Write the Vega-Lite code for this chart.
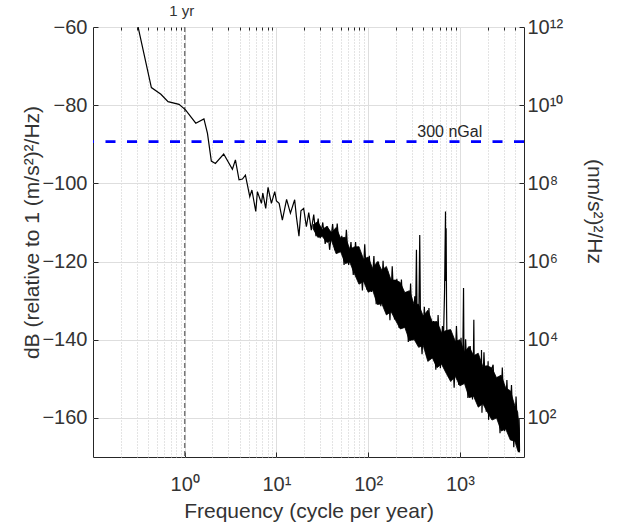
{
  "$schema": "https://vega.github.io/schema/vega-lite/v6.json",
  "width": 431,
  "height": 430,
  "autosize": "none",
  "padding": {"left": 93, "top": 27, "right": 98, "bottom": 72},
  "background": "white",
  "datasets": {
    "psd": [
      {"f":0.25,"db":-50},{"f":0.433,"db":-75.5},{"f":0.55,"db":-77.2},{"f":0.658,"db":-79.1},{"f":0.867,"db":-79.8},
      {"f":1.02,"db":-81.2},{"f":1.32,"db":-84.6},{"f":1.62,"db":-83.5},{"f":1.77,"db":-87.2},{"f":1.95,"db":-94.3},
      {"f":2.16,"db":-94.9},{"f":2.66,"db":-92.5},{"f":3.31,"db":-96.4},{"f":3.57,"db":-94.0},{"f":3.91,"db":-99.1},
      {"f":4.26,"db":-98.9},{"f":4.59,"db":-97.9},{"f":5.12,"db":-103.4},{"f":5.4,"db":-101.7},{"f":5.95,"db":-107.2},
      {"f":6.2,"db":-102.1},{"f":6.86,"db":-105.1},{"f":7.1,"db":-102.5},{"f":7.64,"db":-106.4},{"f":8.1,"db":-101.0},
      {"f":8.81,"db":-105.1},{"f":9.58,"db":-102.1},{"f":10.0,"db":-104.5},{"f":10.7,"db":-105.1},{"f":11.6,"db":-109.4},
      {"f":12.9,"db":-104.1},{"f":14.2,"db":-107.6},{"f":15.8,"db":-104.2},{"f":16.5,"db":-108.5},{"f":17.6,"db":-113.5},
      {"f":18.5,"db":-107},{"f":19.8,"db":-106.4},{"f":21.2,"db":-111.1},{"f":22.5,"db":-107.5},{"f":24,"db":-112},
      {"f":25.5,"db":-108},{"f":27,"db":-113.5},{"f":28.5,"db":-109},{"f":30,"db":-114},{"f":32,"db":-110},
      {"f":34,"db":-115.5},{"f":36,"db":-111},{"f":38,"db":-117},
      {"f":40.97,"db":-110.4},{"f":43.4,"db":-117.1},{"f":45.97,"db":-110.3},{"f":48.7,"db":-117.4},
      {"f":51.58,"db":-113.4},{"f":54.64,"db":-120.9},{"f":57.87,"db":-111.9},{"f":61.3,"db":-120.9},
      {"f":64.94,"db":-115.0},{"f":68.79,"db":-123.4},{"f":72.86,"db":-115.0},{"f":77.18,"db":-122.9},
      {"f":81.75,"db":-118.0},{"f":86.59,"db":-127.4},{"f":91.73,"db":-115.6},{"f":97.17,"db":-127.2},
      {"f":102.9,"db":-118.5},{"f":109.0,"db":-127.8},{"f":115.5,"db":-118.6},{"f":122.3,"db":-130.9},
      {"f":129.6,"db":-120.0},{"f":137.3,"db":-131.4},{"f":145.4,"db":-119.8},{"f":154.0,"db":-131.7},
      {"f":163.1,"db":-122.5},{"f":172.8,"db":-135.0},{"f":183.0,"db":-121.2},{"f":193.8,"db":-134.8},
      {"f":205.3,"db":-124.4},{"f":217.5,"db":-137.0},{"f":230.4,"db":-124.6},{"f":244.1,"db":-136.3},
      {"f":258.5,"db":-127.8},{"f":273.9,"db":-140.6},{"f":290.0,"db":-125.6},{"f":307.2,"db":-140.2},
      {"f":322,"db":-128.9},{"f":330,"db":-131},{"f":336,"db":-117},{"f":341,"db":-133},{"f":346,"db":-140.7},
      {"f":358,"db":-131},{"f":365,"db":-113.2},{"f":372,"db":-136},{"f":386.8,"db":-143.7},
      {"f":409.7,"db":-131.6},{"f":434.0,"db":-144.2},{"f":459.7,"db":-131.9},{"f":487.0,"db":-144.5},
      {"f":515.8,"db":-135.2},{"f":546.4,"db":-147.7},{"f":578.7,"db":-133.7},{"f":613.0,"db":-147.3},
      {"f":645,"db":-136.5},{"f":662,"db":-140},{"f":680,"db":-128},{"f":697,"db":-107.2},{"f":701,"db":-125},
      {"f":708,"db":-111.5},{"f":716,"db":-132},{"f":728,"db":-147},{"f":745,"db":-138},{"f":771.8,"db":-148.3},
      {"f":817.5,"db":-139.2},{"f":865.9,"db":-152.3},{"f":917.3,"db":-136.5},{"f":971.7,"db":-151.6},
      {"f":1029,"db":-139.5},{"f":1070,"db":-150},{"f":1096,"db":-126.8},{"f":1112,"db":-151},
      {"f":1155,"db":-139.9},{"f":1223,"db":-154.9},{"f":1296,"db":-141.6},{"f":1373,"db":-155.3},
      {"f":1400,"db":-148},{"f":1419,"db":-134.9},{"f":1440,"db":-153},{"f":1540,"db":-155.5},
      {"f":1631,"db":-144.6},{"f":1705,"db":-155},{"f":1720,"db":-142.6},{"f":1740,"db":-158.7},
      {"f":1830,"db":-143.2},{"f":1938,"db":-158.4},{"f":2010,"db":-152},{"f":2030,"db":-145.5},{"f":2055,"db":-160.5},
      {"f":2180,"db":-148},{"f":2304,"db":-146.4},{"f":2441,"db":-159.7},{"f":2585,"db":-149.5},{"f":2739,"db":-163.9},
      {"f":2900,"db":-147.1},{"f":3072,"db":-163.4},{"f":3254,"db":-150.3},{"f":3447,"db":-163.8},
      {"f":3652,"db":-151.6},{"f":3868,"db":-167.5},{"f":4097,"db":-154.5},{"f":4340,"db":-168.8},
      {"f":4420,"db":-160},{"f":4470,"db":-168.5}
    ],
    "band": [
      {"f":25.1,"hi":-110.6,"lo":-111.6},{"f":28.2,"hi":-109.8,"lo":-113.8},
      {"f":31.6,"hi":-111.8,"lo":-113.6},{"f":35.5,"hi":-111.0,"lo":-115.1},{"f":39.8,"hi":-112.6,"lo":-114.6},
      {"f":44.7,"hi":-111.3,"lo":-118.0},{"f":50.1,"hi":-114.0,"lo":-117.5},{"f":56.2,"hi":-113.8,"lo":-120.5},
      {"f":63.1,"hi":-116.8,"lo":-120.2},{"f":70.8,"hi":-116.25,"lo":-123.15},{"f":79.4,"hi":-116.2,"lo":-125.8},
      {"f":89.1,"hi":-119.4,"lo":-125.1},{"f":100,"hi":-118.85,"lo":-127.85},{"f":112,"hi":-121.75,"lo":-127.35},
      {"f":126,"hi":-120.0,"lo":-131.0},{"f":141,"hi":-122.2,"lo":-130.8},{"f":158,"hi":-121.25,"lo":-133.65},
      {"f":178,"hi":-124.75,"lo":-132.85},{"f":200,"hi":-124.75,"lo":-135.15},{"f":224,"hi":-125.35,"lo":-137.25},
      {"f":251,"hi":-127.95,"lo":-136.85},{"f":282,"hi":-127.45,"lo":-140.25},{"f":316,"hi":-130.85,"lo":-139.85},
      {"f":355,"hi":-130.95,"lo":-141.95},{"f":398,"hi":-133.95,"lo":-141.45},{"f":447,"hi":-132.45,"lo":-145.55},
      {"f":501,"hi":-135.45,"lo":-144.65},{"f":562,"hi":-135.35,"lo":-147.15},{"f":631,"hi":-138.15,"lo":-146.25},
      {"f":708,"hi":-137.65,"lo":-148.55},{"f":794,"hi":-137.4,"lo":-150.7},{"f":891,"hi":-140.4,"lo":-149.4},
      {"f":1000,"hi":-140.0,"lo":-151.8},{"f":1122,"hi":-143.2,"lo":-151.2},{"f":1259,"hi":-141.7,"lo":-154.8},
      {"f":1413,"hi":-144.1,"lo":-154.5},{"f":1585,"hi":-143.45,"lo":-157.25},{"f":1778,"hi":-146.85,"lo":-156.35},
      {"f":1995,"hi":-146.65,"lo":-158.55},{"f":2239,"hi":-147.25,"lo":-160.55},{"f":2512,"hi":-149.75,"lo":-160.05},
      {"f":2818,"hi":-149.05,"lo":-163.35},{"f":3162,"hi":-152.35,"lo":-162.85},{"f":3548,"hi":-153.05,"lo":-165.65},
      {"f":3981,"hi":-156.95,"lo":-165.95},{"f":4266,"hi":-158.5,"lo":-168.3},{"f":4467,"hi":-163.5,"lo":-168.8}
    ],
    "yr": [{"f":1,"db":-60,"label":"1 yr"}],
    "gal": [{"f":776,"db":-89.3,"label":"300 nGal"}]
  },
  "layer": [
    {
      "data": {"name": "yr"},
      "mark": {"type": "rule", "color": "#777777", "strokeDash": [5, 3], "strokeWidth": 1.5},
      "encoding": {
        "x": {
          "field": "f", "type": "quantitative",
          "scale": {"type": "log", "domain": [0.1, 5000], "nice": false},
          "axis": {
            "orient": "top",
            "title": null,
            "values": [0.2,0.3,0.4,0.5,0.6,0.7,0.8,0.9,2,3,4,5,6,7,8,9,20,30,40,50,60,70,80,90,200,300,400,500,600,700,800,900,2000,3000,4000],
            "labels": false,
            "grid": true,
            "gridColor": "#c8c8c8",
            "gridDash": [1, 2],
            "gridWidth": 1,
            "tickSize": -3
          }
        }
      }
    },
    {
      "data": {"name": "gal"},
      "mark": {"type": "rule", "color": "#0000ff", "strokeDash": [10, 11.5], "strokeWidth": 2.8},
      "encoding": {
        "y": {
          "field": "db", "type": "quantitative",
          "scale": {"domain": [-170, -60], "nice": false, "zero": false},
          "axis": {
            "orient": "right",
            "title": "(nm/s²)²/Hz",
            "values": [-160, -140, -120, -100, -80, -60],
            "labelExpr": "datum.value==-60?'10¹²':datum.value==-80?'10¹⁰':datum.value==-100?'10⁸':datum.value==-120?'10⁶':datum.value==-140?'10⁴':'10²'",
            "grid": false,
            "tickSize": -5,
            "labelPadding": 8,
            "labelFlush": false,
            "titleAngle": 90,
            "titleBaseline": "alphabetic",
            "titleX": 63,
            "titleY": 184
          }
        }
      }
    },
    {
      "data": {"name": "band"},
      "mark": {"type": "area", "color": "black", "stroke": "black", "strokeWidth": 0.8, "clip": true},
      "encoding": {
        "x": {
          "field": "f", "type": "quantitative",
          "scale": {"type": "log", "domain": [0.1, 5000], "nice": false},
          "axis": {
            "orient": "bottom",
            "title": "Frequency (cycle per year)",
            "values": [1, 10, 100, 1000],
            "labelExpr": "datum.value==1?'10⁰':datum.value==10?'10¹':datum.value==100?'10²':'10³'",
            "labelFlush": false,
            "labelPadding": 22,
            "grid": true,
            "gridColor": "#dedede",
            "tickSize": -5,
            "titleBaseline": "alphabetic",
            "titleY": 60
          }
        },
        "y": {
          "field": "lo", "type": "quantitative",
          "scale": {"domain": [-170, -60], "nice": false, "zero": false},
          "axis": {
            "orient": "left",
            "title": "dB (relative to 1 (m/s²)²/Hz)",
            "values": [-160, -140, -120, -100, -80, -60],
            "grid": true,
            "gridColor": "#dedede",
            "tickSize": -5,
            "labelPadding": 11,
            "labelFlush": false,
            "titleBaseline": "alphabetic",
            "titleX": -55,
            "titleY": 205
          }
        },
        "y2": {"field": "hi"}
      }
    },
    {
      "data": {"name": "psd"},
      "mark": {"type": "line", "color": "black", "strokeWidth": 1.2, "clip": true},
      "encoding": {
        "x": {"field": "f", "type": "quantitative", "scale": {"type": "log", "domain": [0.1, 5000], "nice": false}, "axis": null},
        "y": {"field": "db", "type": "quantitative", "scale": {"domain": [-170, -60], "nice": false, "zero": false}, "axis": null}
      }
    },
    {
      "data": {"name": "yr"},
      "mark": {"type": "text", "fontSize": 15, "font": "Liberation Sans", "color": "#333333", "baseline": "bottom", "dy": -8, "dx": -3},
      "encoding": {
        "x": {"field": "f", "type": "quantitative", "scale": {"type": "log", "domain": [0.1, 5000], "nice": false}, "axis": null},
        "y": {"field": "db", "type": "quantitative", "scale": {"domain": [-170, -60], "nice": false, "zero": false}, "axis": null},
        "text": {"field": "label"}
      }
    },
    {
      "data": {"name": "gal"},
      "mark": {"type": "text", "fontSize": 16, "font": "Liberation Sans", "color": "#262626", "baseline": "alphabetic", "dy": -5},
      "encoding": {
        "x": {"field": "f", "type": "quantitative", "scale": {"type": "log", "domain": [0.1, 5000], "nice": false}, "axis": null},
        "y": {"field": "db", "type": "quantitative", "scale": {"domain": [-170, -60], "nice": false, "zero": false}, "axis": null},
        "text": {"field": "label"}
      }
    }
  ],
  "resolve": {"axis": {"x": "independent", "y": "independent"}},
  "config": {
    "view": {"stroke": "#262626", "strokeWidth": 1},
    "axis": {
      "labelFont": "Liberation Sans",
      "titleFont": "Liberation Sans",
      "labelFontSize": 20,
      "titleFontSize": 21,
      "titleFontWeight": "normal",
      "labelColor": "#333333",
      "titleColor": "#333333",
      "tickColor": "#262626",
      "domain": false
    }
  }
}
